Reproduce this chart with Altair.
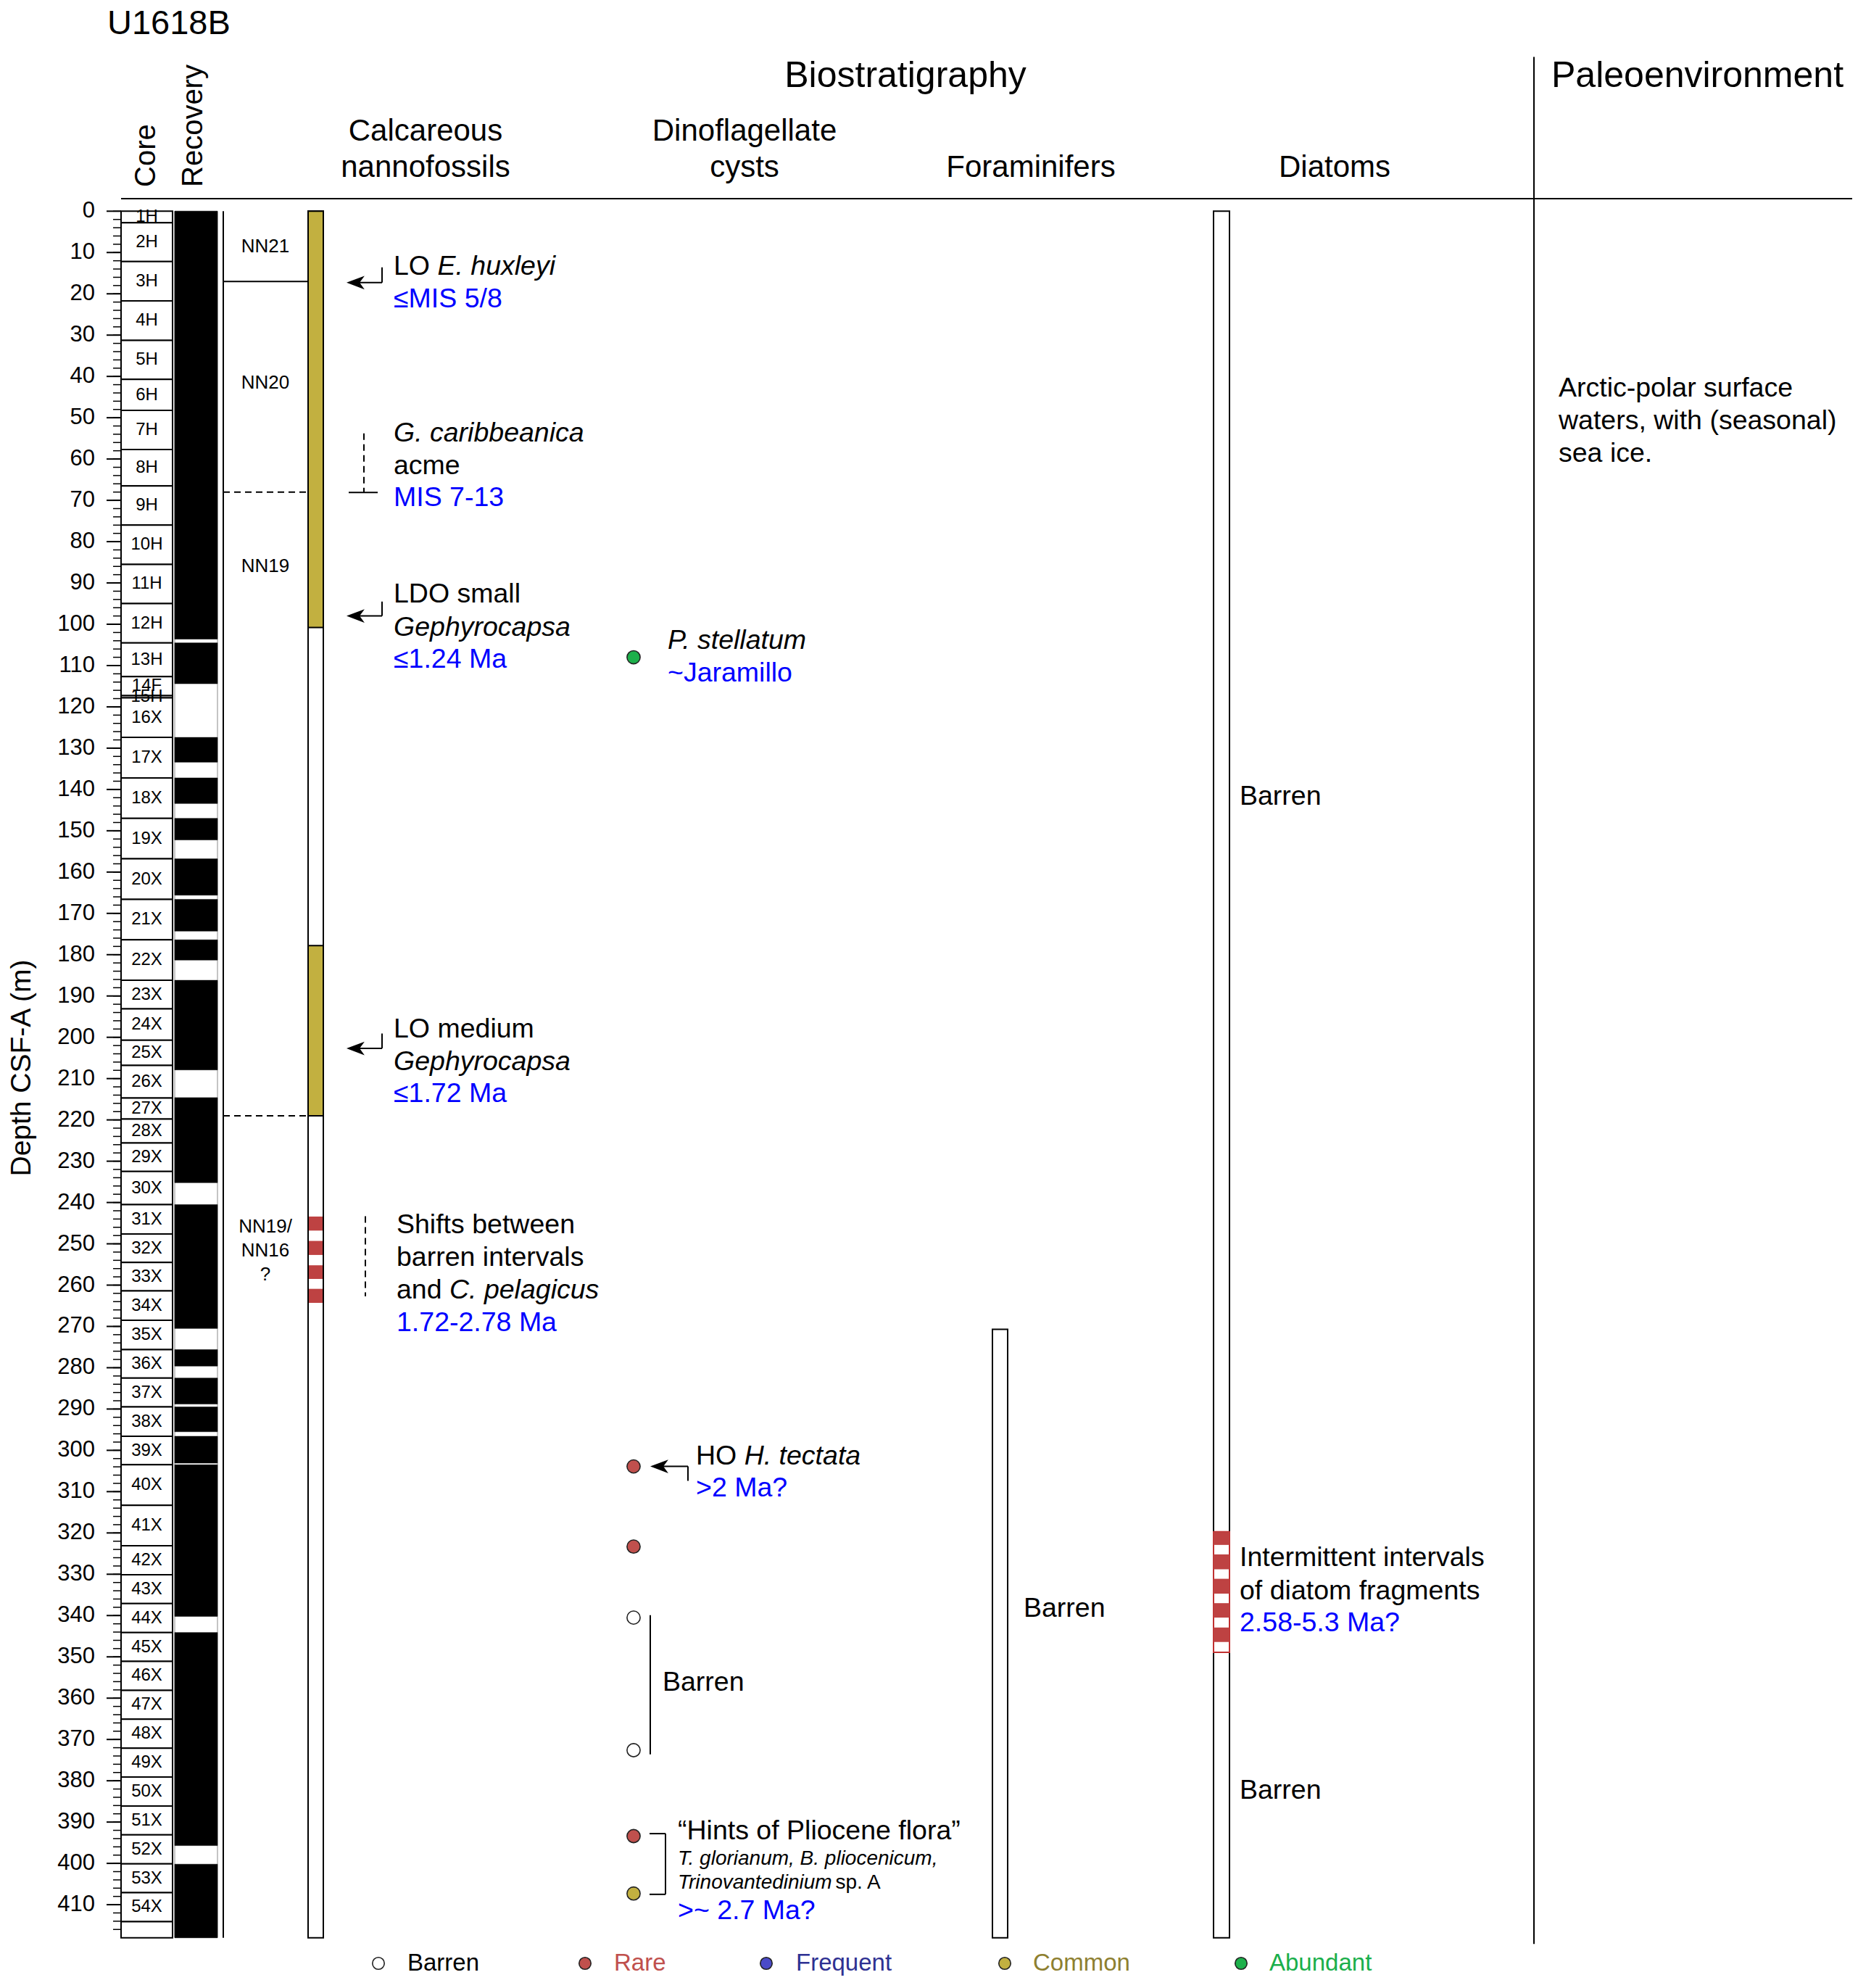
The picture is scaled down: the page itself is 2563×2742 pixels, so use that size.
import altair as alt
import pandas as pd

FONT = "Liberation Sans"
BLACK = "#000000"
BLUE = "#0000FF"
OLIVE = "#C2B040"
RED = "#BE4242"

# ---------------- data ----------------
core_names = ["1H", "2H", "3H", "4H", "5H", "6H", "7H", "8H", "9H", "10H", "11H", "12H", "13H", "14F", "15H",
              "16X", "17X", "18X", "19X", "20X", "21X", "22X", "23X", "24X", "25X", "26X", "27X", "28X", "29X",
              "30X", "31X", "32X", "33X", "34X", "35X", "36X", "37X", "38X", "39X", "40X", "41X", "42X", "43X",
              "44X", "45X", "46X", "47X", "48X", "49X", "50X", "51X", "52X", "53X", "54X", ""]
core_tops = [0.0, 2.8, 12.2, 21.7, 31.3, 40.7, 48.2, 57.7, 66.5, 76.0, 85.5, 95.0, 104.5, 112.7, 117.3,
             117.8, 127.4, 137.2, 147.0, 156.8, 166.6, 176.4, 186.2, 193.1, 200.7, 206.8, 214.7, 219.8, 225.6,
             232.5, 240.5, 247.6, 254.5, 261.4, 268.5, 275.6, 282.5, 289.5, 296.6, 303.5, 313.3, 323.1, 330.1,
             337.1, 344.1, 351.1, 358.1, 365.1, 372.1, 379.1, 386.1, 393.1, 400.1, 407.1, 414.1]
hole_bottom = 418.0
core_bottoms = core_tops[1:] + [hole_bottom]

rec_tops = [0.0, 104.5, 127.4, 137.2, 147.0, 156.8, 166.6, 176.4, 186.2, 214.6, 240.5, 275.6, 282.5,
            289.5, 296.6, 303.5, 344.1, 400.2]
rec_bottoms = [103.6, 114.4, 133.4, 143.4, 152.2, 165.6, 174.3, 181.3, 207.9, 235.2, 270.5, 279.6, 288.8,
               295.5, 303.1, 340.2, 395.7, 418.0]

zone_names = ["NN21", "NN20", "NN19", "NN19/", "NN16", "?"]
zone_name_depths = [8.6, 41.5, 86.0, 245.8, 251.6, 257.5]
zone_bounds_solid = [17.0]
zone_bounds_dashed = [68.0, 219.0]

nanno_common_tops = [0.0, 177.8]
nanno_common_bottoms = [100.8, 219.0]
nanno_rare_tops = [243.4, 249.3, 255.2, 260.9]
nanno_rare_bottoms = [246.8, 252.7, 258.5, 264.3]

foram_top = 270.7

diatom_frag_zone = [319.7, 348.9]
diatom_rare_tops = [319.7, 325.2, 331.1, 337.0, 342.9]
diatom_rare_bottoms = [322.9, 328.8, 334.7, 340.5, 346.4]

dino_depths = [108.0, 303.9, 323.3, 340.5, 372.6, 393.4, 407.3]
dino_abund = ["Abundant", "Rare", "Rare", "Barren", "Barren", "Rare", "Common"]

abund_cats = ["Barren", "Rare", "Frequent", "Common", "Abundant"]
abund_fill = ["#FFFFFF", "#C0504D", "#4B4BC8", "#C2B040", "#1DB04B"]
abund_text = ["#000000", "#C0504D", "#2E3192", "#8E8030", "#1AAF4B"]

depth_ticks = list(range(0, 411, 10))
depth_tick_labels = [str(v) for v in depth_ticks]
minor_ticks = list(range(0, 418, 2))
depth_title = "Depth CSF-A (m)"

# ---------------- layout ----------------
K = 5.697          # pixels per metre
Y0 = 291.3         # page y of depth 0
TOP = 8.0          # page y of plot top
PLOT_H = 2720
DMIN = -(Y0 - TOP) / K
DMAX = DMIN + PLOT_H / K


def sy(y):
    """page y (pixels) -> depth units, for layout items above/below the columns"""
    return (y - Y0) / K


CORE_X = (167, 238)
REC_X = (241, 300)
ZONE_LINE_X = 308
NANNO_X = (425, 446)
FORAM_X = (1369, 1390)
DIATOM_X = (1674, 1696)
DINO_X = 874
SEP_X = 2116
ANN = 37.5

W = {' ': 278, '"': 355, '(': 333, ')': 333, ',': 278, '-': 333, '.': 278, '/': 278, '?': 556, '>': 584,
     '~': 584, '≤': 549, '“': 333, '”': 333,
     'A': 667, 'B': 667, 'C': 722, 'D': 722, 'E': 667, 'F': 611, 'G': 778, 'H': 722, 'I': 278, 'J': 500,
     'K': 667, 'L': 556, 'M': 833, 'N': 722, 'O': 778, 'P': 667, 'Q': 778, 'R': 722, 'S': 667, 'T': 611,
     'U': 722, 'V': 667, 'W': 944, 'X': 667, 'Y': 667, 'Z': 611,
     'a': 556, 'b': 556, 'c': 500, 'd': 556, 'e': 556, 'f': 278, 'g': 556, 'h': 556, 'i': 222, 'j': 222,
     'k': 500, 'l': 222, 'm': 833, 'n': 556, 'o': 556, 'p': 556, 'q': 556, 'r': 333, 's': 500, 't': 278,
     'u': 556, 'v': 500, 'w': 722, 'x': 500, 'y': 500, 'z': 500}


def tw(s, size, italic=False):
    return sum(W.get(c, 556) for c in s) * size / 1000.0 + (size * 0.1 if italic else 0.0)


texts = []


def line(x, d, parts, size=ANN, align="left", angle=0):
    if isinstance(parts, str):
        parts = [(parts, False, BLACK)]
    cx = x
    for p in parts:
        t, it = p[0], p[1]
        col = p[2] if len(p) > 2 else BLACK
        texts.append(dict(x=cx, d=d, text=t, color=col, size=size, italic=it, align=align, angle=angle))
        cx += tw(t, size, it)


# headers
line(148, sy(33), "U1618B", size=47)
line(1249, sy(104.6), "Biostratigraphy", size=50, align="center")
line(2140, sy(104.6), "Paleoenvironment", size=50)
line(587, sy(181.4), "Calcareous", size=42, align="center")
line(587, sy(230.7), "nannofossils", size=42, align="center")
line(1027, sy(181.4), "Dinoflagellate", size=42, align="center")
line(1027, sy(230.7), "cysts", size=42, align="center")
line(1422, sy(230.7), "Foraminifers", size=42, align="center")
line(1841, sy(230.7), "Diatoms", size=42, align="center")
line(202, sy(258), "Core", size=40, angle=270)
line(267, sy(258), "Recovery", size=40, angle=270)

# depth axis: tick labels and title
for v, lab in zip(depth_ticks, depth_tick_labels):
    line(131, v, lab, size=31, align="right")
line(30, sy(1473), depth_title, size=39, align="center", angle=270)

# core labels and zone labels
for n, t, b in zip(core_names, core_tops, core_bottoms):
    if n:
        line((CORE_X[0] + CORE_X[1]) / 2, (t + b) / 2, n, size=24, align="center")
for n, d in zip(zone_names, zone_name_depths):
    line(366, d, n, size=26, align="center")

# calcareous nannofossil annotations
line(543, 13.4, [("LO ", False), ("E. huxleyi", True)])
line(543, 21.3, [("≤MIS 5/8", False, BLUE)])
line(543, 53.8, [("G. caribbeanica", True)])
line(543, 61.8, "acme")
line(543, 69.5, [("MIS 7-13", False, BLUE)])
line(543, 92.8, "LDO small")
line(543, 100.8, [("Gephyrocapsa", True)])
line(543, 108.6, [("≤1.24 Ma", False, BLUE)])
line(543, 198.1, "LO medium")
line(543, 206.1, [("Gephyrocapsa", True)])
line(543, 213.8, [("≤1.72 Ma", False, BLUE)])
line(547, 245.5, "Shifts between")
line(547, 253.4, "barren intervals")
line(547, 261.3, [("and ", False), ("C. pelagicus", True)])
line(547, 269.2, [("1.72-2.78 Ma", False, BLUE)])

# dinoflagellate annotations
line(921, 104.0, [("P. stellatum", True)])
line(921, 112.0, [("~Jaramillo", False, BLUE)])
line(960, 301.5, [("HO ", False), ("H. tectata", True)])
line(960, 309.3, [(">2 Ma?", False, BLUE)])
line(914, 356.3, "Barren")
line(935, 392.2, "“Hints of Pliocene flora”")
line(935, 399.0, [("T. glorianum, B. pliocenicum,", True)], size=28)
line(935, 404.8, [("Trinovantedinium", True), (" sp. A", False)], size=28)
line(935, 411.6, [(">~ 2.7 Ma?", False, BLUE)])

# foraminifers / diatoms
line(1412, 338.4, "Barren")
line(1710, 141.8, "Barren")
line(1710, 326.1, "Intermittent intervals")
line(1710, 334.1, "of diatom fragments")
line(1710, 341.8, [("2.58-5.3 Ma?", False, BLUE)])
line(1710, 382.4, "Barren")

# paleoenvironment
line(2150, 43.0, "Arctic-polar surface")
line(2150, 50.9, "waters, with (seasonal)")
line(2150, 58.8, "sea ice.")

# legend
LEG_DEPTH = sy(2708)
LEG_DOT_X = [522, 807, 1057, 1386, 1712]
LEG_TXT_X = [562, 847, 1098, 1425, 1751]
for c, tc, tx in zip(abund_cats, abund_text, LEG_TXT_X):
    line(tx, LEG_DEPTH, [(c, False, tc)], size=33)

text_df = pd.DataFrame(texts)

# ---------------- rects ----------------
rects = []


def add_rects(xr, tops, bottoms, fill, stroke, sw):
    for t, b in zip(tops, bottoms):
        rects.append(dict(x1=xr[0], x2=xr[1], d1=t, d2=b, fill=fill, stroke=stroke, sw=sw))


add_rects(CORE_X, core_tops, core_bottoms, "#FFFFFF", BLACK, 2)
add_rects(REC_X, [0.0], [hole_bottom], "#FFFFFF", "#8A8A8A", 1)
add_rects(REC_X, rec_tops, rec_bottoms, BLACK, BLACK, 0.5)
add_rects(NANNO_X, [0.0], [hole_bottom], "#FFFFFF", BLACK, 2)
add_rects(NANNO_X, nanno_common_tops, nanno_common_bottoms, OLIVE, BLACK, 2)
add_rects((NANNO_X[0] + 1, NANNO_X[1] - 1), nanno_rare_tops, nanno_rare_bottoms, RED, RED, 0)
add_rects(FORAM_X, [foram_top], [hole_bottom], "#FFFFFF", BLACK, 2)
add_rects(DIATOM_X, [0.0], [hole_bottom], "#FFFFFF", BLACK, 2)
add_rects(DIATOM_X, [diatom_frag_zone[0]], [diatom_frag_zone[1]], "#FFFFFF", "#C03030", 2)
add_rects(DIATOM_X, diatom_rare_tops, diatom_rare_bottoms, RED, RED, 0)
rect_df = pd.DataFrame(rects)

# ---------------- rules ----------------
solid, dashed = [], []


def rl(lst, x1, x2, d1, d2, sw=2.0):
    lst.append(dict(x1=x1, x2=x2, d1=d1, d2=d2, sw=sw))


rl(solid, ZONE_LINE_X, ZONE_LINE_X, 0.0, hole_bottom)
for z in zone_bounds_solid:
    rl(solid, ZONE_LINE_X, NANNO_X[0], z, z)
for z in zone_bounds_dashed:
    rl(dashed, ZONE_LINE_X, NANNO_X[0], z, z)
# arrows (nannofossil events)
for dd, up in [(17.3, 13.6), (98.0, 94.5), (202.7, 199.1)]:
    rl(solid, 483, 527, dd, dd)
    rl(solid, 527, 527, up, dd)
# G. caribbeanica acme
rl(solid, 481, 521, 68.1, 68.1)
rl(dashed, 502, 502, 53.8, 68.1)
# shifts
rl(dashed, 504, 504, 243.3, 262.7)
# HO H. tectata arrow
rl(solid, 902, 949, 303.9, 303.9)
rl(solid, 949, 949, 303.9, 307.4)
# dino barren
rl(solid, 897, 897, 339.9, 373.6)
# bracket
rl(solid, 896, 918, 392.8, 392.8)
rl(solid, 918, 918, 392.8, 407.5)
rl(solid, 896, 918, 407.5, 407.5)
# header line and separator
rl(solid, CORE_X[0], 2555, sy(274), sy(274))
rl(solid, SEP_X, SEP_X, sy(78.5), 419.5)
# depth ticks
for m in minor_ticks:
    rl(solid, 156, CORE_X[0], m, m, 1.5)
for v in depth_ticks:
    rl(solid, 147, CORE_X[0], v, v, 2.0)
solid_df = pd.DataFrame(solid)
dashed_df = pd.DataFrame(dashed)

# ---------------- points ----------------
fill_of = dict(zip(abund_cats, abund_fill))
pts = [dict(x=DINO_X, d=d, fill=fill_of[a], sz=330) for d, a in zip(dino_depths, dino_abund)]
pts += [dict(x=x, d=LEG_DEPTH, fill=f, sz=270) for x, f in zip(LEG_DOT_X, abund_fill)]
pts_df = pd.DataFrame(pts)

arrow_df = pd.DataFrame(dict(x=[478, 478, 478, 897], d=[17.3, 98.0, 202.7, 303.9]))

# ---------------- chart ----------------
XS = alt.Scale(domain=[167, 2555], nice=False, zero=False)
YS = alt.Scale(domain=[DMIN, DMAX], reverse=True, nice=False, zero=False)

rect_layer = alt.Chart(rect_df).mark_rect().encode(
    x=alt.X("x1:Q", scale=XS, axis=None), x2="x2:Q",
    y=alt.Y("d1:Q", scale=YS, axis=None), y2="d2:Q",
    fill=alt.Fill("fill:N", scale=None), stroke=alt.Stroke("stroke:N", scale=None),
    strokeWidth=alt.StrokeWidth("sw:Q", scale=None))


def rule_layer(df, dash=None):
    kw = dict(color=BLACK)
    if dash:
        kw["strokeDash"] = dash
    return alt.Chart(df).mark_rule(**kw).encode(
        x=alt.X("x1:Q", scale=XS, axis=None), x2="x2:Q",
        y=alt.Y("d1:Q", scale=YS, axis=None), y2="d2:Q",
        strokeWidth=alt.StrokeWidth("sw:Q", scale=None))


layers = [rect_layer, rule_layer(solid_df), rule_layer(dashed_df, [9, 6])]

for (it, al, an), g in text_df.groupby(["italic", "align", "angle"]):
    mk = dict(align=al, baseline="middle", font=FONT, fontStyle="italic" if it else "normal")
    if an:
        mk["angle"] = int(an)
    layers.append(alt.Chart(g.reset_index(drop=True)).mark_text(**mk).encode(
        x=alt.X("x:Q", scale=XS, axis=None), y=alt.Y("d:Q", scale=YS, axis=None),
        text="text:N", color=alt.Color("color:N", scale=None), size=alt.Size("size:Q", scale=None)))

layers.append(alt.Chart(pts_df).mark_point(filled=True, shape="circle", stroke="#222222", strokeWidth=1.6,
                                           opacity=1).encode(
    x=alt.X("x:Q", scale=XS, axis=None), y=alt.Y("d:Q", scale=YS, axis=None),
    fill=alt.Fill("fill:N", scale=None), size=alt.Size("sz:Q", scale=None)))

layers.append(alt.Chart(arrow_df).mark_point(filled=True, shape="M0,0 L2,-0.75 L1.45,0 L2,0.75 Z", size=620,
                                             color=BLACK, opacity=1).encode(
    x=alt.X("x:Q", scale=XS, axis=None), y=alt.Y("d:Q", scale=YS, axis=None)))

chart = alt.layer(*layers).properties(
    width=2388, height=PLOT_H,
    padding={"left": 159, "right": 0, "top": 0, "bottom": 0},
    autosize=alt.AutoSizeParams(type="none"),
    background="white",
).configure_view(stroke=None)

chart.save("out.html", embed_options={"renderer": "svg", "actions": False})
